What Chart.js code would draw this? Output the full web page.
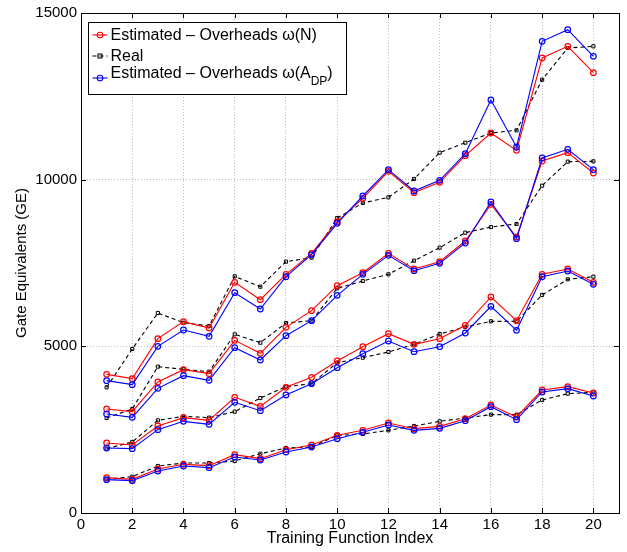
<!DOCTYPE html>
<html>
<head>
<meta charset="utf-8">
<script src="https://cdn.jsdelivr.net/npm/chart.js@4.4.0/dist/chart.umd.min.js"></script>
<style>
  html, body { margin: 0; padding: 0; background: #fff; }
</style>
</head>
<body>
<canvas id="my-chart" width="627" height="552"></canvas>
<script>
'use strict';

// ********** DATA **********

let trainingIndex = [1, 2, 3, 4, 5, 6, 7, 8, 9, 10, 11, 12, 13, 14, 15, 16, 17, 18, 19, 20];
let xTicks = [0, 2, 4, 6, 8, 10, 12, 14, 16, 18, 20];
let yTicks = [0, 5000, 10000, 15000];

// four groups, lowest first
let estN1 = [1060, 1010, 1320, 1460, 1420, 1750, 1630, 1900, 2040, 2330, 2480, 2700, 2530, 2600, 2830, 3240, 2880, 3690, 3790, 3600];
let real1 = [1010, 1090, 1410, 1500, 1500, 1560, 1780, 1950, 1980, 2330, 2370, 2480, 2610, 2750, 2850, 2950, 2950, 3390, 3580, 3620];
let estA1 = [1000, 970, 1260, 1410, 1360, 1680, 1590, 1830, 1980, 2230, 2420, 2640, 2480, 2540, 2770, 3190, 2800, 3630, 3730, 3510];

let estN2 = [2100, 2040, 2610, 2860, 2780, 3470, 3200, 3770, 4070, 4560, 4990, 5380, 5060, 5230, 5630, 6480, 5770, 7160, 7320, 6920];
let real2 = [1930, 2130, 2780, 2900, 2860, 3040, 3450, 3790, 3880, 4510, 4660, 4830, 5060, 5370, 5580, 5750, 5750, 6540, 7010, 7090];
let estA2 = [1950, 1930, 2500, 2750, 2660, 3320, 3070, 3540, 3880, 4360, 4780, 5160, 4840, 4990, 5400, 6200, 5480, 7090, 7260, 6860];

let estN3 = [3120, 3040, 3930, 4300, 4180, 5180, 4790, 5570, 6070, 6820, 7210, 7790, 7320, 7540, 8160, 9260, 8280, 10560, 10810, 10200];
let real3 = [2850, 3120, 4390, 4310, 4240, 5360, 5110, 5700, 5770, 6740, 6960, 7160, 7570, 7960, 8410, 8580, 8670, 9820, 10540, 10550];
let estA3 = [2970, 2870, 3740, 4120, 3980, 4960, 4590, 5320, 5770, 6530, 7160, 7730, 7270, 7490, 8100, 9330, 8230, 10650, 10910, 10300];

let estN4 = [4160, 4030, 5230, 5740, 5550, 6920, 6400, 7160, 7790, 8740, 9440, 10250, 9610, 9920, 10720, 11400, 10880, 13650, 14000, 13210];
let real4 = [3770, 4920, 6000, 5710, 5610, 7100, 6790, 7540, 7660, 8850, 9300, 9470, 10020, 10810, 11110, 11400, 11480, 13000, 13950, 14000];
let estA4 = [3970, 3850, 5000, 5490, 5300, 6610, 6120, 7090, 7750, 8690, 9510, 10300, 9660, 9980, 10780, 12390, 10980, 14150, 14500, 13700];

let legendNames = ['Estimated \u2013 Overheads \u03c9(N)', 'Real', 'Estimated \u2013 Overheads \u03c9(A'];

// ********** STYLE HELPERS **********

const FONT = '"Liberation Sans", Arial, Helvetica, sans-serif';
const RED = '#ff0000';
const BLUE = '#0000ff';
const BLACK = '#000000';

function toPoints(values) {
  return values.map((v, i) => ({ x: trainingIndex[i], y: v }));
}

function estSet(values, color) {
  return {
    data: toPoints(values),
    borderColor: color,
    borderWidth: 1.1,
    pointStyle: 'circle',
    pointRadius: 2.8,
    pointBorderWidth: 1.2,
    pointBorderColor: color,
    pointBackgroundColor: 'rgba(255,255,255,0)',
    tension: 0,
    fill: false
  };
}

function realSet(values) {
  return {
    data: toPoints(values),
    borderColor: BLACK,
    borderWidth: 1.1,
    borderDash: [4, 3],
    pointStyle: 'rect',
    pointRadius: 2.2,
    pointBorderWidth: 1,
    pointBorderColor: BLACK,
    pointBackgroundColor: 'rgba(255,255,255,0)',
    tension: 0,
    fill: false
  };
}

// ********** PLUGINS: box, inward ticks, legend **********

let frameBox = {
  id: 'frameBox',
  afterDraw(chart) {
    let c = chart.ctx;
    let a = chart.chartArea;
    let xs = chart.scales.x;
    let ys = chart.scales.y;
    c.save();
    c.strokeStyle = BLACK;
    c.lineWidth = 1;
    c.strokeRect(Math.round(a.left) + 0.5, Math.round(a.top) + 0.5, Math.round(a.right - a.left), Math.round(a.bottom - a.top));
    c.beginPath();
    xTicks.forEach(t => {
      let px = Math.round(xs.getPixelForValue(t)) + 0.5;
      c.moveTo(px, a.bottom); c.lineTo(px, a.bottom - 5);
      c.moveTo(px, a.top); c.lineTo(px, a.top + 5);
    });
    yTicks.forEach(t => {
      let py = Math.round(ys.getPixelForValue(t)) + 0.5;
      c.moveTo(a.left, py); c.lineTo(a.left + 5, py);
      c.moveTo(a.right, py); c.lineTo(a.right - 5, py);
    });
    c.stroke();
    c.restore();
  }
};

function sample(c, x, y, color, dash, rect) {
  c.save();
  c.strokeStyle = color;
  c.lineWidth = 1.1;
  c.setLineDash(dash);
  c.beginPath();
  c.moveTo(x, y); c.lineTo(x + 15, y);
  c.stroke();
  c.setLineDash([]);
  c.beginPath();
  if (rect) {
    c.rect(x + 5.5, y - 2, 4, 4);
  } else {
    c.arc(x + 7.5, y, 2.8, 0, Math.PI * 2);
  }
  c.stroke();
  c.restore();
}

let legendBox = {
  id: 'legendBox',
  afterDraw(chart) {
    let c = chart.ctx;
    let a = chart.chartArea;
    let left = Math.round(a.left) + 7.5;
    let top = Math.round(a.top) + 9.5;
    c.save();
    c.fillStyle = '#ffffff';
    c.fillRect(left, top, 258, 72);
    c.strokeStyle = BLACK;
    c.lineWidth = 1;
    c.strokeRect(left, top, 258, 72);

    sample(c, left + 4, top + 12.5, RED, [], false);
    sample(c, left + 4, top + 33.5, BLACK, [4, 3], true);
    sample(c, left + 4, top + 55.5, BLUE, [], false);

    c.fillStyle = BLACK;
    c.textBaseline = 'middle';
    c.font = '16px ' + FONT;
    let tx = left + 22;
    c.fillText(legendNames[0], tx, top + 13);
    c.fillText(legendNames[1], tx, top + 34);
    c.fillText(legendNames[2], tx, top + 51);
    let w = c.measureText(legendNames[2]).width;
    c.font = '12px ' + FONT;
    c.fillText('DP', tx + w, top + 59);
    let w2 = c.measureText('DP').width;
    c.font = '16px ' + FONT;
    c.fillText(')', tx + w + w2, top + 51);
    c.restore();
  }
};

// ********** CHART **********

let ctx = document.getElementById('my-chart');

let chartObj = {
  type: 'line',
  data: {
    datasets: [
      estSet(estA1, BLUE), estSet(estA2, BLUE), estSet(estA3, BLUE), estSet(estA4, BLUE),
      estSet(estN1, RED), estSet(estN2, RED), estSet(estN3, RED), estSet(estN4, RED),
      realSet(real1), realSet(real2), realSet(real3), realSet(real4)
    ]
  },
  options: {
    responsive: false,
    animation: false,
    devicePixelRatio: 1,
    layout: { padding: { top: 9, right: 8, left: 0, bottom: 0 } },
    plugins: {
      legend: { display: false },
      tooltip: { enabled: false }
    },
    scales: {
      x: {
        type: 'linear',
        min: 0,
        max: 21,
        afterBuildTicks: (scale) => { scale.ticks = xTicks.map(v => ({ value: v })); },
        afterFit: (scale) => { scale.height = 39; },
        ticks: {
          color: BLACK,
          padding: 3,
          maxRotation: 0,
          callback: (v) => String(v),
          font: { family: FONT, size: 15 }
        },
        grid: { color: '#bcbcbc', lineWidth: 1, drawTicks: false },
        border: { display: false, dash: [1, 2] },
        title: {
          display: true,
          text: 'Training Function Index',
          color: BLACK,
          font: { family: FONT, size: 16 },
          padding: { top: 0, bottom: 4 }
        }
      },
      y: {
        min: 0,
        max: 15000,
        afterBuildTicks: (scale) => { scale.ticks = yTicks.map(v => ({ value: v })); },
        afterFit: (scale) => { scale.width = 81; },
        ticks: {
          color: BLACK,
          padding: 4,
          callback: (v) => String(v),
          font: { family: FONT, size: 15 }
        },
        grid: { color: '#bcbcbc', lineWidth: 1, drawTicks: false },
        border: { display: false, dash: [1, 2] },
        title: {
          display: true,
          text: 'Gate Equivalents (GE)',
          color: BLACK,
          font: { family: FONT, size: 15 },
          padding: { top: 13, bottom: 0 }
        }
      }
    }
  },
  plugins: [frameBox, legendBox]
};

new Chart(ctx, chartObj); //eslint-disable-line
</script>
</body>
</html>
